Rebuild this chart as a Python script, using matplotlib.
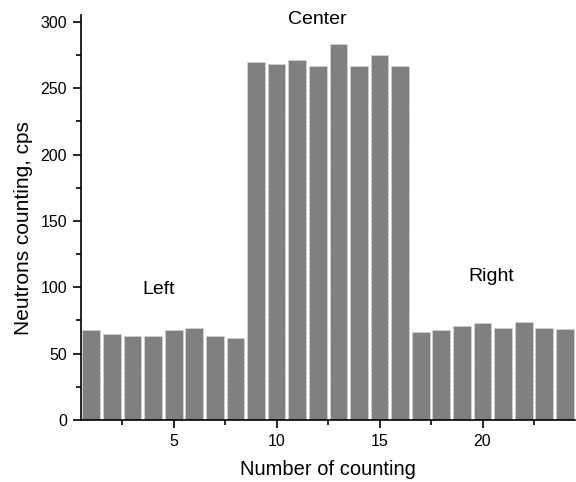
import matplotlib.pyplot as plt
from matplotlib.ticker import MultipleLocator

plt.rcParams['font.family'] = ['Liberation Sans', 'DejaVu Sans']

# counts per measurement
counting = list(range(1, 25))
neutrons = [68, 65, 63, 63.3, 67.6, 69.3, 63.3, 61.5,
            269.8, 268.5, 271.5, 266.5, 283.3, 267, 275, 266.8,
            66, 67.8, 70.6, 72.8, 69.6, 74, 69.6, 68.6]

fig = plt.figure(figsize=(5.76, 4.82), dpi=100)
ax = fig.add_axes([0.1406, 0.1286, 0.858, 0.840])

ax.bar(counting, neutrons, width=0.86, color='#808080',
       edgecolor='#d8d8d8', linewidth=0.6, linestyle='--')

ax.set_xlim(0.5, 24.5)
ax.set_ylim(0, 305)
ax.spines['top'].set_visible(False)
ax.spines['right'].set_visible(False)
ax.spines['left'].set_linewidth(1.2)
ax.spines['bottom'].set_linewidth(1.2)

ax.xaxis.set_major_locator(MultipleLocator(5))
ax.xaxis.set_minor_locator(MultipleLocator(2.5))
ax.yaxis.set_major_locator(MultipleLocator(50))
ax.yaxis.set_minor_locator(MultipleLocator(25))
ax.tick_params(which='major', direction='out', length=6, width=1.2,
               labelsize=11.5, pad=4)
ax.tick_params(which='minor', direction='out', length=3.5, width=1.2)

ax.set_xlabel('Number of counting', fontsize=14.5, labelpad=8)
ax.set_ylabel('Neutrons counting, cps', fontsize=15)
ax.yaxis.set_label_coords(-0.097, 0.474)

ax.text(4.26, 98, 'Left', ha='center', va='center', fontsize=14)
ax.text(12.0, 301.5, 'Center', ha='center', va='center', fontsize=14)
ax.text(20.4, 108, 'Right', ha='center', va='center', fontsize=14)

plt.savefig('out.png', dpi=100, facecolor='white')
